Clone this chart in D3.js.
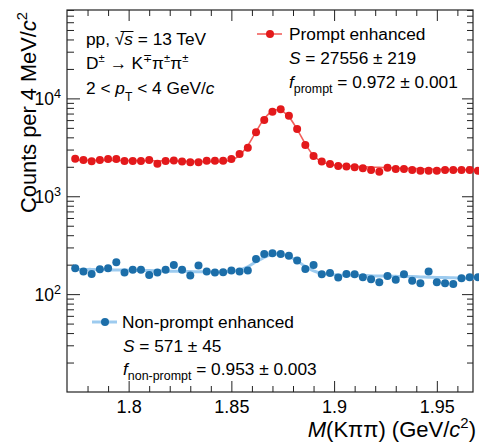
<!DOCTYPE html>
<html>
<head>
<meta charset="utf-8">
<script src="https://cdn.jsdelivr.net/npm/d3@7"></script>
<style>
  html, body { margin: 0; padding: 0; background: #fff; }
  svg { display: block; font-family: "Liberation Sans", Arial, Helvetica, sans-serif; }
  text { fill: #000; }
</style>
</head>
<body>
<svg id="chart" width="479" height="444"></svg>
<script>
// Invariant-mass bin centres (4 MeV/c^2 bins)
const massBins = [1.774, 1.778, 1.782, 1.786, 1.790, 1.794, 1.798, 1.802, 1.806, 1.810,
                  1.814, 1.818, 1.822, 1.826, 1.830, 1.834, 1.838, 1.842, 1.846, 1.850,
                  1.854, 1.858, 1.862, 1.866, 1.870, 1.874, 1.878, 1.882, 1.886, 1.890,
                  1.894, 1.898, 1.902, 1.906, 1.910, 1.914, 1.918, 1.922, 1.926, 1.930,
                  1.934, 1.938, 1.942, 1.946, 1.950, 1.954, 1.958, 1.962, 1.966, 1.970];

// Prompt-enhanced sample: counts and fitted model
const promptCounts = [2420, 2350, 2280, 2350, 2400, 2400, 2290, 2290, 2290, 2350,
                      2150, 2290, 2320, 2260, 2220, 2220, 2310, 2310, 2310, 2400,
                      2700, 3130, 4500, 6010, 7310, 7740, 6660, 4860, 3340, 2580,
                      2260, 2140, 2040, 2010, 1980, 1930, 1860, 1780, 1960, 1900,
                      1900, 1860, 1820, 1820, 1820, 1860, 1860, 1860, 1860, 1820];
const promptFit = [2340, 2336, 2332, 2328, 2324, 2320, 2316, 2312, 2308, 2304,
                   2300, 2294, 2288, 2282, 2276, 2270, 2262, 2258, 2270, 2347,
                   2620, 3309, 4573, 6194, 7448, 7571, 6470, 4825, 3429, 2605,
                   2244, 2113, 2066, 2040, 2020, 2000, 1986, 1972, 1958, 1944,
                   1930, 1920, 1910, 1900, 1890, 1880, 1872, 1865, 1857, 1850];

// Non-prompt-enhanced sample: counts and fitted model
const nonPromptCounts = [184, 170, 161, 180, 184, 212, 166, 177, 177, 157,
                         166, 177, 199, 177, 155, 196, 170, 166, 167, 174,
                         170, 174, 229, 257, 262, 257, 246, 220, 181, 199,
                         160, 164, 148, 161, 160, 149, 142, 132, 153, 140,
                         160, 137, 129, 170, 132, 129, 127, 145, 149, 149];
const nonPromptFit = [180, 179, 179, 178, 177, 176, 176, 175, 174, 174,
                      173, 172, 171, 171, 170, 169, 169, 168, 168, 170,
                      177, 190, 214, 238, 255, 256, 243, 218, 192, 173,
                      163, 159, 157, 156, 156, 155, 154, 153, 153, 152,
                      151, 151, 150, 149, 148, 148, 147, 146, 145, 145];

// Axis ticks
const xTickValues = [1.8, 1.85, 1.9, 1.95];
const xTickLabels = ["1.8", "1.85", "1.9", "1.95"];
const xMinorTicks = [1.78, 1.79, 1.81, 1.82, 1.83, 1.84, 1.86, 1.87, 1.88, 1.89,
                     1.91, 1.92, 1.93, 1.94, 1.96];
const yTickValues = [1e2, 1e3, 1e4];
const yTickExponents = ["2", "3", "4"];
const yMinorTicks = [20, 30, 40, 50, 60, 70, 80, 90,
                     200, 300, 400, 500, 600, 700, 800, 900,
                     2000, 3000, 4000, 5000, 6000, 7000, 8000, 9000,
                     20000, 30000, 40000, 50000, 60000, 70000, 80000];

const colors = {
  promptMarker: "#e3191b",
  promptLine: "#f2605c",
  nonPromptMarker: "#1c6ea9",
  nonPromptLine: "#9dcbef"
};

const frame = { left: 67, right: 473, top: 10, bottom: 392 };
const svg = d3.select("#chart");

const x = d3.scaleLinear().domain([1.77, 1.9676]).range([frame.left, frame.right]);
const y = d3.scaleLog().domain([10, 80000]).range([frame.bottom, frame.top]);

// Rich text: parts = [{t, it, sup, sub, scale}]
function rich(sel, px, py, parts, size, anchor) {
  const t = sel.append("text")
    .attr("x", px).attr("y", py)
    .attr("font-size", size)
    .attr("text-anchor", anchor || "start");
  let shift = 0;
  parts.forEach(p => {
    const ts = t.append("tspan").text(p.t);
    const target = p.sup ? -size * 0.42 : (p.sub ? size * (p.subShift || 0.32) : 0);
    if (target !== shift) { ts.attr("dy", target - shift); shift = target; }
    if (p.it) ts.attr("font-style", "italic");
    if (p.sup || p.sub) ts.attr("font-size", size * (p.scale || 0.7));
  });
  return t;
}

// ---- Axes (ticks inside the frame, mirrored on top/right) ----
const gx = svg.append("g").attr("transform", `translate(0,${frame.bottom})`)
  .call(d3.axisBottom(x).tickValues(xTickValues).tickSizeInner(-11).tickSizeOuter(0)
    .tickPadding(21).tickFormat((d, i) => xTickLabels[i]));
gx.select(".domain").remove();
gx.selectAll("text").attr("font-size", 18).attr("font-family", null).attr("dy", null);

const gxm = svg.append("g").attr("transform", `translate(0,${frame.bottom})`)
  .call(d3.axisBottom(x).tickValues(xMinorTicks).tickSizeInner(-6).tickSizeOuter(0).tickFormat(""));
gxm.select(".domain").remove();

const gxt = svg.append("g").attr("transform", `translate(0,${frame.top})`)
  .call(d3.axisTop(x).tickValues(xTickValues).tickSizeInner(-11).tickSizeOuter(0).tickFormat(""));
gxt.select(".domain").remove();
const gxtm = svg.append("g").attr("transform", `translate(0,${frame.top})`)
  .call(d3.axisTop(x).tickValues(xMinorTicks).tickSizeInner(-6).tickSizeOuter(0).tickFormat(""));
gxtm.select(".domain").remove();

const gy = svg.append("g").attr("transform", `translate(${frame.left},0)`)
  .call(d3.axisLeft(y).tickValues(yTickValues).tickSizeInner(-13).tickSizeOuter(0).tickFormat(""));
gy.select(".domain").remove();
const gym = svg.append("g").attr("transform", `translate(${frame.left},0)`)
  .call(d3.axisLeft(y).tickValues(yMinorTicks).tickSizeInner(-7).tickSizeOuter(0).tickFormat(""));
gym.select(".domain").remove();

const gyr = svg.append("g").attr("transform", `translate(${frame.right},0)`)
  .call(d3.axisRight(y).tickValues(yTickValues).tickSizeInner(-11).tickSizeOuter(0).tickFormat(""));
gyr.select(".domain").remove();
const gyrm = svg.append("g").attr("transform", `translate(${frame.right},0)`)
  .call(d3.axisRight(y).tickValues(yMinorTicks).tickSizeInner(-6).tickSizeOuter(0).tickFormat(""));
gyrm.select(".domain").remove();

svg.selectAll(".tick line").attr("stroke", "#222").attr("stroke-width", 1);

// y tick labels 10^n
yTickValues.forEach((v, i) => {
  rich(svg, 61, y(v) + 7, [{ t: "10" }, { t: yTickExponents[i], sup: true, scale: 0.72 }], 17.5, "end");
});

// frame
svg.append("rect")
  .attr("x", frame.left).attr("y", frame.top)
  .attr("width", frame.right - frame.left).attr("height", frame.bottom - frame.top)
  .attr("fill", "none").attr("stroke", "#222").attr("stroke-width", 1.2);

// ---- Fit curves and data points ----
const line = d3.line()
  .x((d, i) => x(massBins[i]))
  .y(d => y(d))
  .curve(d3.curveCatmullRom.alpha(0.5));

svg.append("path").datum(nonPromptFit)
  .attr("d", line).attr("fill", "none")
  .attr("stroke", colors.nonPromptLine).attr("stroke-width", 3);
svg.append("path").datum(promptFit)
  .attr("d", line).attr("fill", "none")
  .attr("stroke", colors.promptLine).attr("stroke-width", 1.6);

svg.append("g").selectAll("circle").data(promptCounts).join("circle")
  .attr("cx", (d, i) => x(massBins[i])).attr("cy", d => y(d))
  .attr("r", 4).attr("fill", colors.promptMarker);

svg.append("g").selectAll("circle").data(nonPromptCounts).join("circle")
  .attr("cx", (d, i) => x(massBins[i])).attr("cy", d => y(d))
  .attr("r", 4).attr("fill", colors.nonPromptMarker);

// ---- Axis titles ----
rich(svg, 476, 437, [
  { t: "M", it: true }, { t: "(Kππ) (GeV/" }, { t: "c", it: true },
  { t: "2", sup: true, scale: 0.68 }, { t: ")" }
], 22, "end");

const yTitle = rich(svg, 0, 0, [
  { t: "Counts per 4 MeV/" }, { t: "c", it: true }, { t: "2", sup: true, scale: 0.68 }
], 21.8, "end");
yTitle.attr("transform", "translate(36,12) rotate(-90)");

// ---- Collision / decay info ----
const info1 = rich(svg, 86, 45, [
  { t: "pp, " }, { t: "√" }, { t: "s", it: true }, { t: " = 13 TeV" }
], 17.3, "start");
{
  const n = info1.node();
  const x1 = n.getStartPositionOfChar(4).x + 0.6 * (n.getEndPositionOfChar(4).x - n.getStartPositionOfChar(4).x);
  const x2 = n.getEndPositionOfChar(5).x + 0.5;
  svg.append("line").attr("x1", x1).attr("x2", x2).attr("y1", 45 - 13.5).attr("y2", 45 - 13.5)
    .attr("stroke", "#000").attr("stroke-width", 1);
}
rich(svg, 86, 69, [
  { t: "D" }, { t: "±", sup: true, scale: 0.65 }, { t: " → K" }, { t: "∓", sup: true, scale: 0.65 },
  { t: "π" }, { t: "±", sup: true, scale: 0.65 }, { t: "π" }, { t: "±", sup: true, scale: 0.65 }
], 17.3, "start");
rich(svg, 86, 94, [
  { t: "2 < " }, { t: "p", it: true }, { t: "T", sub: true, scale: 0.7, subShift: 0.38 },
  { t: " < 4 GeV/" }, { t: "c", it: true }
], 17.3, "start");

// ---- Legends ----
function legendEntry(lx, ly, lineColor, lineWidth, markerColor) {
  svg.append("line").attr("x1", lx - 13).attr("x2", lx + 12).attr("y1", ly).attr("y2", ly)
    .attr("stroke", lineColor).attr("stroke-width", lineWidth);
  svg.append("circle").attr("cx", lx).attr("cy", ly).attr("r", 4).attr("fill", markerColor);
}

legendEntry(270, 34, colors.promptLine, 1.6, colors.promptMarker);
rich(svg, 289, 40, [{ t: "Prompt enhanced" }], 17.3, "start");
rich(svg, 289, 64, [{ t: "S", it: true }, { t: " = 27556 ± 219" }], 17.3, "start");
rich(svg, 289, 88, [
  { t: "f", it: true }, { t: "prompt", sub: true, scale: 0.72, subShift: 0.3 }, { t: " = 0.972 ± 0.001" }
], 17.3, "start");

legendEntry(105, 322, colors.nonPromptLine, 3, colors.nonPromptMarker);
rich(svg, 122, 328, [{ t: "Non-prompt enhanced" }], 17.3, "start");
rich(svg, 123, 352, [{ t: "S", it: true }, { t: " = 571 ± 45" }], 17.3, "start");
rich(svg, 123, 375, [
  { t: "f", it: true }, { t: "non-prompt", sub: true, scale: 0.72, subShift: 0.3 }, { t: " = 0.953 ± 0.003" }
], 17.3, "start");
</script>
</body>
</html>
